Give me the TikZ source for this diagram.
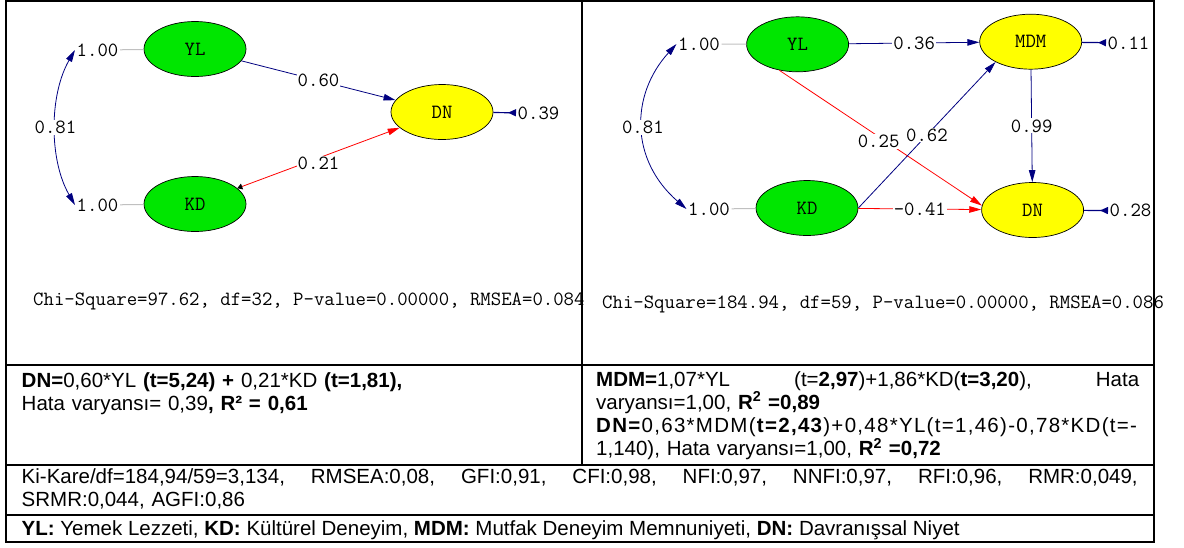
\documentclass[tikz,border=0pt]{standalone}
\usepackage{fontspec}
\setmainfont{Liberation Sans}
\usetikzlibrary{shapes.geometric,arrows.meta}
\definecolor{exogreen}{RGB}{0,230,0}
\definecolor{endoyellow}{RGB}{255,255,0}
\definecolor{pathnavy}{RGB}{0,0,128}
\definecolor{pathred}{RGB}{255,0,0}
\definecolor{fixgrey}{RGB}{192,192,192}
\newcommand{\lisfont}{\ttfamily\fontsize{20.2}{20}\selectfont}
\newcommand{\tabfont}{\fontsize{20.5}{23.3}\selectfont}
\newcommand{\fullline}[2]{\leavevmode\hbox to #1{#2}}
\tikzset{
  exo/.style={ellipse,draw=black,line width=0.7pt,fill=exogreen,minimum width=102pt,minimum height=55pt,inner sep=0pt,font=\lisfont},
  endo/.style={exo,fill=endoyellow},
  coef/.style={fill=white,text=black,inner sep=1pt,font=\lisfont},
  fixed/.style={inner sep=1.5pt,font=\lisfont},
  lisnote/.style={inner sep=0pt,anchor=base west,font=\lisfont},
  pospath/.style={pathnavy,line width=0.8pt,-{Triangle[length=12pt,width=6.5pt]}},
  negpath/.style={pospath,pathred},
  errpath/.style={pathnavy,line width=1.2pt,{Triangle[reversed,length=8pt,width=7pt]}-},
  corr/.style={pathnavy,line width=0.8pt,{Triangle[length=12pt,width=6.5pt]}-{Triangle[length=12pt,width=6.5pt]}},
  cell/.style={inner sep=0pt,anchor=base west,align=left,font=\tabfont},
}
\begin{document}
\begin{tikzpicture}[x=1pt,y=-1pt]
\useasboundingbox (0,0) rectangle (1184,547);
% model 1
\node[exo] (yl1) at (195,49) {YL};
\node[exo] (kd1) at (195,204) {KD};
\node[endo] (dn1) at (442,112) {DN};
\node[fixed] (v1yl) at (97.5,50) {1.00};
\node[fixed] (v1kd) at (97.5,205) {1.00};
\node[fixed,anchor=west] (e1dn) at (516,113) {0.39};
\draw[fixgrey,line width=1pt] (v1yl) -- (yl1);
\draw[fixgrey,line width=1pt] (v1kd) -- (kd1);
\draw[corr] (v1yl.west) .. controls (49,95) and (49,160) .. node[coef] {0.81} (v1kd.west);
\draw[pospath] (yl1) -- node[coef] {0.60} (dn1);
\draw[negpath,{Triangle[black,length=5pt,width=6pt]}-{Triangle[length=12pt,width=6.5pt]}] (kd1) -- node[coef,yshift=-5pt] {0.21} (dn1);
\draw[errpath] (e1dn) -- (dn1);
\node[lisnote] (chi1) at (33,305) {Chi-Square=97.62, df=32, P-value=0.00000, RMSEA=0.084};
% model 2
\node[exo] (yl2) at (797.6,44.3) {YL};
\node[exo] (kd2) at (807,208) {KD};
\node[endo] (mdm2) at (1030.7,41.7) {MDM};
\node[endo] (dn2) at (1032.6,210) {DN};
\node[fixed] (v2yl) at (699,44) {1.00};
\node[fixed] (v2kd) at (709,209) {1.00};
\node[fixed,anchor=west] (e2mdm) at (1106,43) {0.11};
\node[fixed,anchor=west] (e2dn) at (1108,210.7) {0.28};
\draw[fixgrey,line width=1pt] (v2yl) -- (yl2);
\draw[fixgrey,line width=1pt] (v2kd) -- (kd2);
\draw[corr] (v2yl.west) .. controls (630,95) and (630,160) .. node[coef] {0.81} (v2kd.west);
\draw[pospath] (yl2) -- node[coef] {0.36} (mdm2);
\draw[negpath] (yl2.235) -- node[coef,pos=0.49,yshift=-5pt] {0.25} (dn2.175);
\draw[pospath] (kd2.east) -- node[coef] {0.62} (mdm2.210);
\draw[pospath] (mdm2) -- node[coef] {0.99} (dn2);
\draw[negpath] (kd2) -- node[coef] {-0.41} (dn2);
\draw[errpath] (e2mdm) -- (mdm2);
\draw[errpath] (e2dn) -- (dn2);
\node[lisnote] (chi2) at (602,308) {Chi-Square=184.94, df=59, P-value=0.00000, RMSEA=0.086};
% equations and fit
\node[cell,text width=544pt] (eq1) at (21.5,387) {\textbf{DN=}0,60*YL \textbf{(t=5,24) +} 0,21*KD \textbf{(t=1,81),}\\
Hata varyansı= 0,39\textbf{, R² = 0,61}};
\node[cell,text width=543pt] (eq2) at (596,386) {\fullline{543pt}{\textbf{MDM=}1,07*YL \hfill(t=\textbf{2,97})+1,86*KD(\textbf{t=3,20}), \hfill Hata}\\
varyansı=1,00, \textbf{R\textsuperscript{2} =0,89}\\
{\addfontfeature{LetterSpace=6.3}\textbf{DN=}0,63*MDM(\textbf{t=2,43})+0,48*YL(t=1,46)-0,78*KD(t=-}\\
1,140), Hata varyansı=1,00, \textbf{R\textsuperscript{2} =0,72}};
\node[cell,text width=1116pt] (fit) at (21.5,483) {\fullline{1116pt}{Ki-Kare/df=184,94/59=3,134, \hfill RMSEA:0,08, \hfill GFI:0,91, \hfill CFI:0,98, \hfill NFI:0,97, \hfill NNFI:0,97, \hfill RFI:0,96, \hfill RMR:0,049,}\\
SRMR:0,044, AGFI:0,86};
\node[cell] (abbr) at (21.5,535) {\textbf{YL:} Yemek Lezzeti, \textbf{KD:} Kültürel Deneyim, \textbf{MDM:} Mutfak Deneyim Memnuniyeti, \textbf{DN:} Davranışsal Niyet};
% table rules
\draw[line width=2pt] (5.5,1) rectangle (1153.5,542);
\draw[line width=2pt] (581.5,1) -- (581.5,464.5);
\draw[line width=2pt] (5.5,364.5) -- (1153.5,364.5);
\draw[line width=2pt] (5.5,464.5) -- (1153.5,464.5);
\draw[line width=2pt] (5.5,514.8) -- (1153.5,514.8);
\end{tikzpicture}
\end{document}
